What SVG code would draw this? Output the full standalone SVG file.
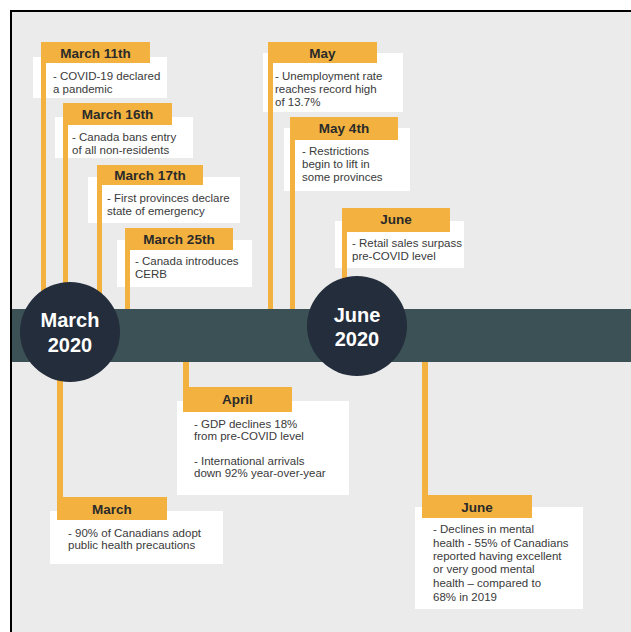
<svg xmlns="http://www.w3.org/2000/svg" width="631" height="632" viewBox="0 0 631 632">
<style>
.card{fill:#ffffff}
.hdr{fill:#f3b23f}
.bar{fill:#f3b23f}
.ht{font-family:"Liberation Sans",Arial,sans-serif;font-weight:bold;font-size:13.5px;fill:#2a2a2a;text-anchor:middle}
.bt{font-family:"Liberation Sans",Arial,sans-serif;font-size:11.5px;fill:#3a3a3a}
.circ{fill:#232d3b}
.ct{font-family:"Liberation Sans",Arial,sans-serif;font-weight:bold;font-size:20px;fill:#ffffff;text-anchor:middle}
</style>
<rect x="0" y="0" width="631" height="632" fill="#ffffff"/>
<rect x="11" y="11" width="640" height="640" fill="#ebebeb" stroke="#000000" stroke-width="2"/>
<rect id="band" x="12" y="309" width="619" height="53" fill="#3c5155"/>

<g id="march11">
<rect class="card" x="33" y="57" width="134" height="41"/>
<rect class="hdr" x="41" y="42" width="109" height="21"/>
<text class="ht" x="95.5" y="58">March 11th</text>
<text class="bt" x="53" y="80">- COVID-19 declared</text>
<text class="bt" x="53" y="93">a pandemic</text>
</g>
<g id="march16">
<rect class="card" x="55" y="117" width="138" height="41"/>
<rect class="hdr" x="63" y="103" width="109" height="22"/>
<text class="ht" x="117.5" y="119">March 16th</text>
<text class="bt" x="72" y="141">- Canada bans entry</text>
<text class="bt" x="72" y="154">of all non-residents</text>
</g>
<g id="march17">
<rect class="card" x="88" y="177" width="152" height="46"/>
<rect class="hdr" x="97" y="165" width="106" height="20"/>
<text class="ht" x="150" y="180">March 17th</text>
<text class="bt" x="107" y="202">- First provinces declare</text>
<text class="bt" x="107" y="215">state of emergency</text>
</g>
<g id="march25">
<rect class="card" x="117" y="240" width="135" height="47"/>
<rect class="hdr" x="125" y="228" width="108" height="22"/>
<text class="ht" x="179" y="244">March 25th</text>
<text class="bt" x="135" y="265">- Canada introduces</text>
<text class="bt" x="135" y="278">CERB</text>
</g>
<g id="may">
<rect class="card" x="263" y="53" width="140" height="59"/>
<rect class="hdr" x="268" y="42" width="109" height="21"/>
<text class="ht" x="322.5" y="58">May</text>
<text class="bt" x="275" y="80">- Unemployment rate</text>
<text class="bt" x="275" y="93">reaches record high</text>
<text class="bt" x="275" y="106">of 13.7%</text>
</g>
<g id="may4">
<rect class="card" x="284" y="128" width="126" height="63"/>
<rect class="hdr" x="290" y="117" width="108" height="23"/>
<text class="ht" x="344" y="133">May 4th</text>
<text class="bt" x="302" y="155">- Restrictions</text>
<text class="bt" x="302" y="168">begin to lift in</text>
<text class="bt" x="302" y="181">some provinces</text>
</g>
<g id="june-retail">
<rect class="card" x="335" y="221" width="129" height="47"/>
<rect class="hdr" x="342" y="208" width="108" height="24"/>
<text class="ht" x="396" y="224">June</text>
<text class="bt" x="352" y="247">- Retail sales surpass</text>
<text class="bt" x="352" y="260">pre-COVID level</text>
</g>
<g id="april">
<rect class="card" x="177" y="401" width="172" height="94"/>
<rect class="hdr" x="183" y="387" width="109" height="25"/>
<text class="ht" x="237.5" y="404">April</text>
<text class="bt" x="194" y="428">- GDP declines 18%</text>
<text class="bt" x="194" y="440">from pre-COVID level</text>
<text class="bt" x="194" y="465">- International arrivals</text>
<text class="bt" x="194" y="477">down 92% year-over-year</text>
</g>
<g id="march-health">
<rect class="card" x="50" y="511" width="173" height="53"/>
<rect class="hdr" x="57" y="497" width="110" height="23"/>
<text class="ht" x="112" y="514">March</text>
<text class="bt" x="68" y="537">- 90% of Canadians adopt</text>
<text class="bt" x="68" y="549">public health precautions</text>
</g>
<g id="june-mental">
<rect class="card" x="415" y="507" width="168" height="102"/>
<rect class="hdr" x="422" y="495" width="110" height="23"/>
<text class="ht" x="477" y="512">June</text>
<text class="bt" x="433" y="533">- Declines in mental</text>
<text class="bt" x="433" y="547">health - 55% of Canadians</text>
<text class="bt" x="433" y="560">reported having excellent</text>
<text class="bt" x="433" y="573">or very good mental</text>
<text class="bt" x="433" y="587">health – compared to</text>
<text class="bt" x="433" y="601">68% in 2019</text>
</g>

<g id="connectors">
<rect class="bar" x="41" y="42" width="5" height="267"/>
<rect class="bar" x="63" y="103" width="5" height="206"/>
<rect class="bar" x="97" y="165" width="5" height="144"/>
<rect class="bar" x="125" y="228" width="5" height="81"/>
<rect class="bar" x="268" y="42" width="5" height="267"/>
<rect class="bar" x="290" y="117" width="5" height="192"/>
<rect class="bar" x="342" y="208" width="5" height="101"/>
<rect class="bar" x="183" y="362" width="6" height="30"/>
<rect class="bar" x="57" y="370" width="6" height="130"/>
<rect class="bar" x="422" y="362" width="6" height="136"/>
</g>

<g id="march2020">
<circle class="circ" cx="70" cy="332" r="50"/>
<text class="ct" x="70" y="327">March</text>
<text class="ct" x="70" y="352">2020</text>
</g>
<g id="june2020">
<circle class="circ" cx="357" cy="326" r="50"/>
<text class="ct" x="357" y="322">June</text>
<text class="ct" x="357" y="346">2020</text>
</g>
</svg>
